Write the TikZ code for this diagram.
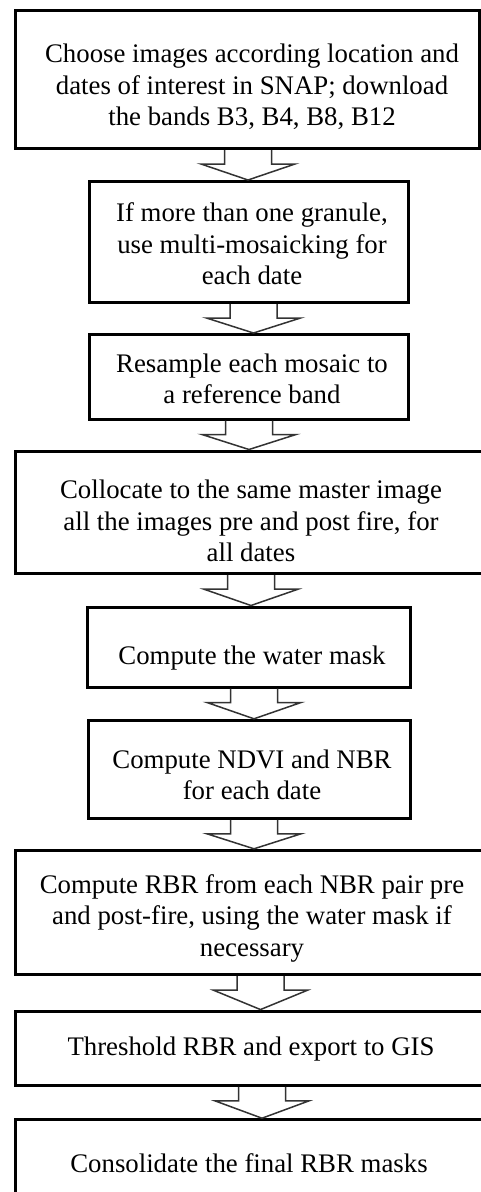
\documentclass[tikz,border=0pt]{standalone}
\usepackage{fontspec}
\setmainfont{Liberation Serif}
\usetikzlibrary{calc}
\tikzset{
  box/.style={draw=black, line width=3pt, fill=white, inner sep=0pt},
  txt/.style={align=center, inner sep=0pt, font=\fontsize{26.8}{31.5}\selectfont},
  arr/.style={draw=black!80, line width=1.5pt, line join=miter}
}
\newcommand{\flowarr}[3]{%
  \draw[arr] ($(#1.south -| o)+(#3-23.5,0)$) -- ($(#1.south -| o)+(#3-23.5,14)$)
    -- ($(#1.south -| o)+(#3-47,14)$) -- ($(#2.north -| o)+(#3,0)$)
    -- ($(#1.south -| o)+(#3+47,14)$) -- ($(#1.south -| o)+(#3+23.5,14)$)
    -- ($(#1.south -| o)+(#3+23.5,0)$);}
\begin{document}
\begin{tikzpicture}[x=1pt,y=-1pt]
\fill[white] (0,0) rectangle (481,1192);
\clip (0,0) rectangle (481,1192);
\coordinate (o) at (0,0);
% boxes
\node[box, minimum width=464pt, minimum height=138.5pt] (b1) at (247,79.25) {};
\node[box, minimum width=319pt, minimum height=121pt] (b2) at (249,242) {};
\node[box, minimum width=319pt, minimum height=84.5pt] (b3) at (249,376.75) {};
\node[box, minimum width=471pt, minimum height=122.7pt] (b4) at (250.5,512.35) {};
\node[box, minimum width=323.5pt, minimum height=80pt] (b5) at (248.75,647) {};
\node[box, minimum width=322pt, minimum height=98pt] (b6) at (249,769.3) {};
\node[box, minimum width=471pt, minimum height=124.4pt] (b7) at (250.5,912.5) {};
\node[box, minimum width=471pt, minimum height=74.3pt] (b8) at (250.5,1048.2) {};
\node[box, minimum width=471pt, minimum height=85.3pt] (b9) at (250.5,1162.35) {};
% texts
\node[txt] (t1) at (252,87) {Choose images according location and\\dates of interest in SNAP; download\\the bands B3, B4, B8, B12};
\node[txt] (t2) at (252,244) {If more than one granule,\\use multi-mosaicking for\\each date};
\node[txt] (t3) at (252,379) {Resample each mosaic to\\a reference band};
\node[txt] (t4) at (251,521) {Collocate to the same master image\\all the images pre and post fire, for\\all dates};
\node[txt] (t5) at (252,658) {Compute the water mask};
\node[txt] (t6) at (252,775) {Compute NDVI and NBR\\for each date};
\node[txt] (t7) at (252,918) {Compute RBR from each NBR pair pre\\and post-fire, using the water mask if\\necessary};
\node[txt] (t8) at (251,1049) {Threshold RBR and export to GIS};
\node[txt] (t9) at (249,1163) {Consolidate the final RBR masks};
% arrows
\flowarr{b1}{b2}{248}
\flowarr{b2}{b3}{253.5}
\flowarr{b3}{b4}{249}
\flowarr{b4}{b5}{251}
\flowarr{b5}{b6}{254}
\flowarr{b6}{b7}{254}
\flowarr{b7}{b8}{260.5}
\flowarr{b8}{b9}{262}
\end{tikzpicture}
\end{document}
